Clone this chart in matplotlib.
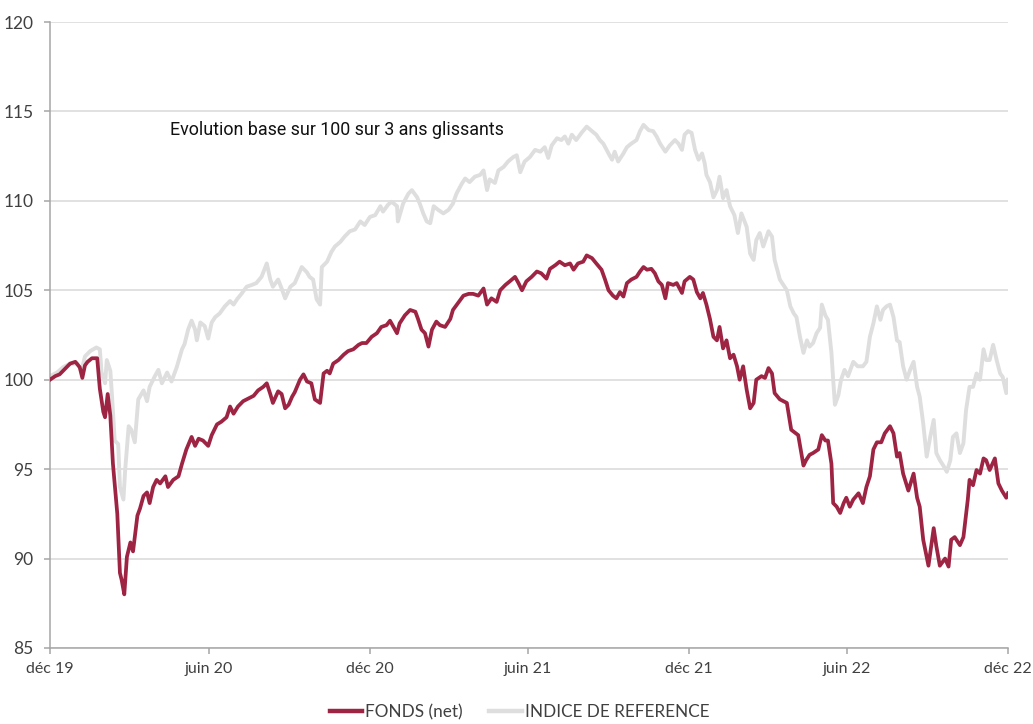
import numpy as np
import pandas as pd
import matplotlib
matplotlib.use("Agg")
import matplotlib.pyplot as plt

start = pd.Timestamp("2019-12-31")

# FONDS (net) : days since start / value
fund_days = [0, 6, 11, 17, 23, 29, 34, 37, 40, 43, 48, 54, 57, 61, 63, 66, 69, 72, 77, 80,
             82, 85, 88, 92, 95, 100, 103, 107, 111, 114, 118, 122, 126, 132, 135, 141, 147, 151, 156, 162,
             166, 170, 175, 181, 185, 191, 196, 202, 206, 210, 215, 221, 227, 233, 238, 244, 248, 252, 255, 261,
             265, 269, 273, 277, 280, 286, 290, 294, 299, 303, 309, 313, 317, 320, 324, 330, 336, 341, 347, 353,
             357, 362, 368, 374, 379, 385, 389, 393, 397, 400, 406, 412, 418, 421, 425, 429, 433, 437, 442, 446,
             452, 458, 461, 467, 473, 479, 484, 490, 496, 500, 505, 511, 515, 521, 526, 532, 536, 540, 545, 551,
             557, 562, 568, 572, 578, 583, 589, 595, 599, 604, 610, 614, 620, 625, 631, 635, 639, 644, 648, 652,
             656, 660, 665, 671, 675, 679, 683, 688, 692, 696, 700, 704, 707, 713, 717, 723, 726, 732, 736, 740,
             744, 747, 751, 755, 759, 763, 766, 770, 774, 778, 782, 786, 789, 793, 797, 801, 805, 808, 814, 818,
             822, 826, 829, 835, 843, 848, 856, 862, 865, 869, 873, 879, 883, 887, 890, 894, 896, 900, 904, 908,
             911, 915, 919, 925, 930, 934, 938, 942, 946, 951, 955, 961, 965, 969, 972, 976, 982, 988, 992, 995,
             999, 1003, 1005, 1011, 1014, 1018, 1024, 1028, 1031, 1035, 1041, 1045, 1050, 1052, 1056, 1060, 1064, 1068, 1071, 1075,
             1081, 1085, 1089, 1094, 1096]
fund_vals = [100.0, 100.2, 100.3, 100.6, 100.9, 101.0, 100.7, 100.1, 100.8, 101.0, 101.2, 101.2, 99.5, 98.2, 97.9, 99.2, 98.0, 95.3, 92.5, 89.2,
             88.8, 88.0, 90.1, 90.9, 90.4, 92.4, 92.8, 93.5, 93.7, 93.1, 94.0, 94.4, 94.2, 94.6, 94.0, 94.4, 94.6, 95.3, 96.1, 96.8,
             96.3, 96.7, 96.6, 96.3, 96.9, 97.5, 97.65, 97.9, 98.5, 98.1, 98.5, 98.8, 98.95, 99.1, 99.4, 99.6, 99.8, 99.2, 98.7, 99.35,
             99.2, 98.4, 98.6, 99.05, 99.3, 100.0, 100.3, 99.9, 99.8, 98.9, 98.7, 100.35, 100.5, 100.35, 100.9, 101.1, 101.4, 101.6, 101.7, 101.95,
             102.05, 102.05, 102.4, 102.6, 102.95, 103.05, 103.3, 102.95, 102.6, 103.15, 103.6, 103.9, 103.8, 103.4, 102.8, 102.6, 101.85, 102.8, 103.25, 103.05,
             102.95, 103.4, 103.9, 104.3, 104.7, 104.8, 104.8, 104.7, 105.1, 104.2, 104.55, 104.35, 105.0, 105.3, 105.5, 105.75, 105.4, 105.0, 105.5, 105.75,
             106.05, 105.95, 105.65, 106.2, 106.4, 106.6, 106.4, 106.5, 106.15, 106.5, 106.6, 106.95, 106.8, 106.5, 106.15, 105.6, 105.0, 104.7, 104.55, 104.9,
             104.65, 105.4, 105.6, 105.75, 106.05, 106.3, 106.15, 106.2, 105.95, 105.5, 105.3, 104.55, 105.4, 105.3, 105.4, 104.85, 105.5, 105.75, 105.6, 104.9,
             104.55, 104.85, 104.2, 103.4, 102.4, 102.2, 102.95, 101.75, 102.2, 101.2, 101.4, 100.75, 100.0, 100.75, 99.45, 98.4, 98.7, 100.0, 100.2, 100.1,
             100.65, 100.35, 99.25, 98.9, 98.7, 97.2, 96.9, 95.2, 95.5, 95.8, 95.9, 96.1, 96.9, 96.6, 96.6, 95.3, 93.1, 92.9, 92.55, 93.1,
             93.4, 92.9, 93.3, 93.65, 93.1, 94.0, 94.6, 96.1, 96.5, 96.5, 97.0, 97.4, 97.0, 95.7, 95.9, 94.75, 93.8, 94.75, 93.4, 92.9,
             91.05, 90.1, 89.6, 91.7, 90.7, 89.6, 90.0, 89.55, 91.05, 91.2, 90.75, 91.2, 93.3, 94.4, 94.1, 94.95, 94.75, 95.6, 95.5, 94.95,
             95.6, 94.2, 93.8, 93.4, 93.65]

# INDICE DE REFERENCE
ref_days = [0, 8, 15, 23, 31, 36, 40, 46, 53, 57, 59, 63, 65, 69, 71, 74, 78, 80, 84, 86,
            90, 93, 97, 101, 107, 111, 114, 120, 124, 128, 134, 139, 145, 151, 154, 158, 162, 166, 168, 172,
            177, 181, 185, 189, 194, 200, 206, 210, 214, 219, 225, 231, 236, 242, 248, 252, 255, 261, 265, 269,
            275, 280, 288, 294, 297, 301, 305, 309, 311, 317, 322, 326, 332, 337, 343, 349, 355, 360, 366, 372,
            378, 381, 387, 391, 397, 398, 404, 410, 414, 420, 423, 427, 431, 435, 439, 444, 450, 456, 461, 465,
            471, 475, 480, 486, 492, 496, 500, 503, 509, 513, 519, 524, 530, 534, 538, 543, 549, 555, 561, 566,
            570, 574, 580, 585, 589, 593, 597, 602, 608, 614, 620, 625, 629, 633, 639, 643, 646, 650, 656, 660,
            665, 671, 675, 679, 685, 690, 694, 698, 704, 709, 715, 719, 723, 726, 730, 734, 738, 742, 746, 749,
            751, 755, 759, 763, 766, 770, 774, 778, 783, 787, 791, 797, 801, 805, 808, 812, 816, 822, 826, 829,
            835, 843, 847, 851, 854, 858, 862, 866, 869, 873, 877, 881, 883, 887, 890, 894, 896, 898, 902, 905,
            909, 913, 919, 924, 930, 934, 938, 942, 946, 950, 953, 957, 961, 965, 969, 972, 976, 980, 984, 988,
            992, 995, 999, 1003, 1007, 1011, 1014, 1018, 1022, 1026, 1030, 1033, 1037, 1041, 1045, 1048, 1052, 1056, 1060, 1064,
            1068, 1071, 1075, 1079, 1083, 1087, 1090, 1094, 1096]
ref_vals = [100.2, 100.4, 100.7, 100.9, 100.9, 100.5, 101.3, 101.6, 101.8, 101.7, 100.4, 99.8, 101.1, 100.5, 99.05, 96.6, 96.4, 94.0, 93.3, 94.95,
            97.4, 97.2, 96.5, 98.9, 99.4, 98.8, 99.6, 100.2, 100.55, 99.8, 100.4, 99.9, 100.7, 101.7, 102.0, 102.8, 103.3, 102.8, 102.2, 103.2,
            103.0, 102.3, 103.2, 103.5, 103.7, 104.1, 104.4, 104.2, 104.5, 104.8, 105.2, 105.3, 105.4, 105.75, 106.5, 105.6, 105.2, 105.6, 105.1, 104.55,
            105.2, 105.4, 106.3, 106.0, 105.75, 105.6, 104.5, 104.2, 106.3, 106.6, 107.15, 107.45, 107.7, 108.0, 108.3, 108.4, 108.85, 108.65, 109.1, 109.2,
            109.7, 109.4, 109.8, 109.95, 109.7, 108.85, 109.85, 110.4, 110.6, 110.2, 109.85, 109.3, 108.85, 108.75, 109.7, 109.5, 109.3, 109.5, 109.85, 110.4,
            110.95, 111.25, 111.05, 111.35, 111.45, 111.7, 110.6, 111.2, 111.0, 111.7, 111.9, 112.2, 112.45, 112.55, 111.6, 112.2, 112.45, 112.85, 112.75, 113.0,
            112.4, 113.1, 113.5, 113.4, 113.6, 113.2, 113.7, 113.4, 113.8, 114.15, 113.9, 113.7, 113.4, 113.2, 112.65, 112.3, 112.75, 112.2, 112.65, 113.0,
            113.2, 113.4, 113.9, 114.25, 113.95, 113.9, 113.6, 113.2, 112.75, 113.1, 113.4, 113.2, 112.85, 113.7, 113.9, 113.8, 112.85, 112.3, 112.65, 112.1,
            111.45, 111.05, 110.2, 110.6, 111.35, 110.15, 110.6, 109.7, 109.2, 108.2, 109.3, 108.55, 107.05, 106.7, 107.8, 108.2, 107.45, 108.3, 108.0, 106.7,
            105.6, 105.0, 104.1, 103.7, 103.5, 102.4, 101.5, 102.2, 101.85, 102.05, 102.6, 102.9, 104.2, 103.6, 103.35, 101.5, 100.0, 98.6, 99.15, 100.0,
            100.55, 100.2, 101.0, 100.75, 100.75, 101.0, 102.4, 103.15, 104.1, 103.35, 103.9, 104.1, 104.2, 103.5, 102.2, 102.1, 100.75, 100.0, 100.55, 101.0,
            99.6, 99.05, 97.55, 95.7, 96.8, 97.75, 95.9, 95.5, 95.2, 94.85, 95.5, 96.8, 97.0, 95.9, 96.45, 98.3, 99.6, 99.6, 100.35, 100.0,
            101.7, 101.1, 101.1, 101.95, 101.1, 100.35, 100.15, 99.25, 100.0]

tick_dates = ["2019-12-31", "2020-06-30", "2020-12-31", "2021-06-30", "2021-12-31", "2022-06-30", "2022-12-31"]
tick_labels = ["déc 19", "juin 20", "déc 20", "juin 21", "déc 21", "juin 22", "déc 22"]

fund_x = start + pd.to_timedelta(fund_days, unit="D")
ref_x = start + pd.to_timedelta(ref_days, unit="D")

plt.rcParams["font.family"] = ["Lato", "DejaVu Sans"]

fig = plt.figure(figsize=(10.33, 7.24), dpi=100)
ax = fig.add_axes([0.0484, 0.105, 0.9274, 0.8646])

ax.plot(ref_x, ref_vals, color="#dedede", lw=2.8, label="INDICE DE REFERENCE", zorder=2,
        solid_joinstyle="round")
ax.plot(fund_x, fund_vals, color="#9e2443", lw=2.7, label="FONDS (net)", zorder=3,
        solid_joinstyle="round")

ax.set_ylim(85, 120)
ax.set_yticks(np.arange(85, 121, 5))
ax.set_xlim(pd.Timestamp(tick_dates[0]), pd.Timestamp(tick_dates[-1]))
ax.set_xticks(pd.to_datetime(tick_dates))
ax.set_xticklabels(tick_labels)

ax.grid(axis="y", color="#d9d9d9", lw=1.1)
ax.set_axisbelow(True)
for s in ["top", "right"]:
    ax.spines[s].set_visible(False)
for s in ["left", "bottom"]:
    ax.spines[s].set_color("#a6a6a6")
    ax.spines[s].set_linewidth(1.1)
ax.tick_params(axis="both", colors="#a6a6a6", length=4, width=1.1, labelcolor="#404040")
ax.tick_params(axis="y", labelsize=12.5, pad=8)
ax.tick_params(axis="x", labelsize=11.5, pad=6)

ax.text(0.125, 0.827, "Evolution base sur 100 sur 3 ans glissants", transform=ax.transAxes,
        fontsize=12.9, family=["Roboto", "DejaVu Sans"], color="#111111", va="center")

h, l = ax.get_legend_handles_labels()
leg = fig.legend(h[::-1], l[::-1], loc="center", bbox_to_anchor=(0.503, 0.016), ncol=2, frameon=False,
                 fontsize=12.3, handlelength=1.9, handletextpad=0.17, columnspacing=1.55,
                 labelcolor="#404040", borderpad=0.1)
for line in leg.get_lines():
    line.set_linewidth(3.2)

fig.savefig("out.png", dpi=100)
